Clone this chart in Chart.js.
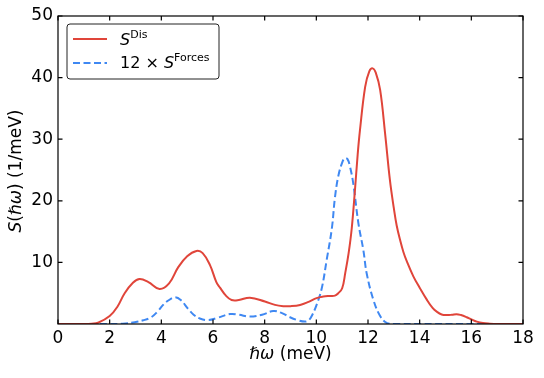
<!DOCTYPE html>
<html>
<head>
<meta charset="utf-8">
<script src="https://cdn.jsdelivr.net/npm/chart.js@4"></script>
<style>
  html, body { margin: 0; padding: 0; background: #fff; }
  #chart { display: block; }
</style>
</head>
<body>
<canvas id="chart" width="544" height="378"></canvas>
<script>
// S^Dis (red, solid)
const xDis = [0, 1.0, 1.3, 1.55, 2.0, 2.3, 2.58, 2.9, 3.16, 3.5, 3.93, 4.3, 4.65, 5.0, 5.36, 5.6, 5.88, 6.13, 6.27, 6.5, 6.72, 7.0, 7.43, 8.01, 8.4, 8.72, 9.0, 9.37, 9.7, 10.01, 10.27, 10.5, 10.72, 10.85, 11.0, 11.12, 11.25, 11.37, 11.5, 11.6, 11.69, 11.89, 12.05, 12.18, 12.3, 12.47, 12.66, 12.85, 13.0, 13.11, 13.25, 13.37, 13.5, 13.76, 14.0, 14.27, 14.5, 14.66, 14.85, 15.05, 15.25, 15.43, 15.6, 15.82, 16.0, 16.21, 16.45, 16.72, 17.0, 18];
const yDis = [0, 0, 0.05, 0.2, 1.3, 2.8, 5.0, 6.7, 7.3, 6.8, 5.7, 6.6, 9.2, 11.0, 11.85, 11.5, 9.6, 6.8, 5.9, 4.6, 3.9, 3.9, 4.27, 3.65, 3.1, 2.9, 2.9, 3.1, 3.6, 4.2, 4.45, 4.55, 4.6, 5.0, 5.8, 8.3, 11.5, 15.5, 22, 27.5, 31.5, 38.5, 41.0, 41.5, 40.8, 38, 31, 23.3, 18.8, 16.0, 13.5, 11.7, 10.2, 7.7, 5.9, 4.0, 2.6, 2.0, 1.55, 1.45, 1.5, 1.6, 1.45, 1.1, 0.75, 0.38, 0.15, 0.05, 0, 0];

// 12 x S^Forces (blue, dashed)
const xForces = [0, 2.0, 2.5, 2.97, 3.3, 3.61, 3.85, 4.07, 4.3, 4.52, 4.75, 5.03, 5.25, 5.49, 5.81, 6.17, 6.66, 7.0, 7.43, 7.9, 8.33, 8.65, 8.98, 9.3, 9.56, 9.7, 9.82, 10.01, 10.21, 10.4, 10.6, 10.72, 10.85, 11.0, 11.1, 11.2, 11.3, 11.43, 11.63, 11.82, 11.95, 12.21, 12.47, 12.72, 13.0, 18];
const yForces = [0, 0, 0.05, 0.3, 0.6, 1.1, 2.0, 3.1, 3.9, 4.33, 3.9, 2.5, 1.5, 0.9, 0.65, 1.0, 1.62, 1.5, 1.2, 1.5, 2.1, 1.8, 1.1, 0.6, 0.4, 0.6, 1.3, 3.1, 5.8, 10.4, 15.5, 20.5, 24.0, 26.2, 26.9, 26.8, 25.6, 22.8, 16.3, 12, 8.2, 3.9, 1.3, 0.2, 0, 0];

const xTicks = [0, 2, 4, 6, 8, 10, 12, 14, 16, 18];
const yTicks = [10, 20, 30, 40, 50];

const RED = '#e0453a';
const BLUE = '#3f88f2';
const FONT = '"DejaVu Sans", sans-serif';

function toPoints(xs, ys) {
    return xs.map((x, i) => ({ x: x, y: ys[i] }));
}

// draw a run of text pieces with different fonts, returns total width
function drawPieces(ctx, pieces, x, y, measureOnly) {
    let cx = x;
    pieces.forEach(p => {
        ctx.font = p.font;
        if (!measureOnly) ctx.fillText(p.text, cx, y + (p.dy || 0));
        cx += ctx.measureText(p.text).width;
    });
    return cx - x;
}

const framePlugin = {
    id: 'frame',
    afterDraw(chart) {
        const ctx = chart.ctx;
        const a = chart.chartArea;
        const xs = chart.scales.x;
        const ys = chart.scales.y;
        ctx.save();
        ctx.strokeStyle = '#000';
        ctx.lineWidth = 1.2;
        ctx.strokeRect(a.left, a.top, a.right - a.left, a.bottom - a.top);

        // inward ticks on all four sides
        const len = 4.5;
        ctx.beginPath();
        xTicks.forEach(v => {
            const px = xs.getPixelForValue(v);
            ctx.moveTo(px, a.bottom); ctx.lineTo(px, a.bottom - len);
            ctx.moveTo(px, a.top); ctx.lineTo(px, a.top + len);
        });
        yTicks.forEach(v => {
            const py = ys.getPixelForValue(v);
            ctx.moveTo(a.left, py); ctx.lineTo(a.left + len, py);
            ctx.moveTo(a.right, py); ctx.lineTo(a.right - len, py);
        });
        ctx.stroke();

        // axis titles
        ctx.fillStyle = '#000';
        ctx.textBaseline = 'alphabetic';
        ctx.textAlign = 'left';
        const norm = '17px ' + FONT;
        const ital = 'italic 17px ' + FONT;
        const xTitle = [
            { text: '\u210F\u03C9', font: ital },
            { text: ' (meV)', font: norm }
        ];
        const wx = drawPieces(ctx, xTitle, 0, 0, true);
        drawPieces(ctx, xTitle, (a.left + a.right) / 2 - wx / 2, 359);

        const yTitle = [
            { text: 'S', font: ital },
            { text: '(', font: norm },
            { text: '\u210F\u03C9', font: ital },
            { text: ') (1/meV)', font: norm }
        ];
        const wy = drawPieces(ctx, yTitle, 0, 0, true);
        ctx.save();
        ctx.translate(21, (a.top + a.bottom) / 2 + 1);
        ctx.rotate(-Math.PI / 2);
        drawPieces(ctx, yTitle, -wy / 2, 0);
        ctx.restore();

        // legend box
        const bx = 67, by = 24, bw = 152, bh = 55, r = 3;
        ctx.beginPath();
        ctx.moveTo(bx + r, by);
        ctx.arcTo(bx + bw, by, bx + bw, by + bh, r);
        ctx.arcTo(bx + bw, by + bh, bx, by + bh, r);
        ctx.arcTo(bx, by + bh, bx, by, r);
        ctx.arcTo(bx, by, bx + bw, by, r);
        ctx.closePath();
        ctx.fillStyle = 'rgba(255,255,255,0.85)';
        ctx.fill();
        ctx.strokeStyle = '#222';
        ctx.lineWidth = 1;
        ctx.stroke();

        ctx.lineWidth = 2;
        ctx.strokeStyle = RED;
        ctx.beginPath();
        ctx.moveTo(73, 39); ctx.lineTo(107, 39);
        ctx.stroke();
        ctx.strokeStyle = BLUE;
        ctx.setLineDash([7, 3.5]);
        ctx.beginPath();
        ctx.moveTo(73, 63); ctx.lineTo(107, 63);
        ctx.stroke();
        ctx.setLineDash([]);

        ctx.fillStyle = '#000';
        const sup = '11px ' + FONT;
        drawPieces(ctx, [
            { text: 'S', font: 'italic 16px ' + FONT },
            { text: 'Dis', font: sup, dy: -7 }
        ], 120, 45);
        drawPieces(ctx, [
            { text: '12 \u00D7 ', font: '16px ' + FONT },
            { text: 'S', font: 'italic 16px ' + FONT },
            { text: 'Forces', font: sup, dy: -7 }
        ], 120, 68);
        ctx.restore();
    }
};

const chart = new Chart(document.getElementById('chart'), {
    type: 'line',
    data: {
        datasets: [{
            label: 'S^Dis',
            data: toPoints(xDis, yDis),
            borderColor: RED,
            borderWidth: 2,
            pointRadius: 0,
            fill: false,
            tension: 0.4
        }, {
            label: '12 x S^Forces',
            data: toPoints(xForces, yForces),
            borderColor: BLUE,
            borderWidth: 2,
            borderDash: [7, 3.5],
            pointRadius: 0,
            fill: false,
            tension: 0.4
        }]
    },
    options: {
        responsive: false,
        animation: false,
        layout: { padding: { top: 16, right: 21, left: 0, bottom: 0 } },
        scales: {
            x: {
                type: 'linear',
                min: 0,
                max: 18,
                afterBuildTicks: s => { s.ticks = xTicks.map(v => ({ value: v })); },
                afterFit: s => { s.height = 54; },
                ticks: { color: '#000', font: { family: FONT, size: 17 }, padding: 4, maxRotation: 0 },
                grid: { display: false, drawTicks: false },
                border: { display: false }
            },
            y: {
                min: 0,
                max: 50,
                afterBuildTicks: s => { s.ticks = yTicks.map(v => ({ value: v })); },
                afterFit: s => { s.width = 58; },
                ticks: { color: '#000', font: { family: FONT, size: 17 }, padding: 5 },
                grid: { display: false, drawTicks: false },
                border: { display: false }
            }
        },
        plugins: {
            legend: { display: false },
            tooltip: { enabled: false }
        }
    },
    plugins: [framePlugin]
});
</script>
</body>
</html>
